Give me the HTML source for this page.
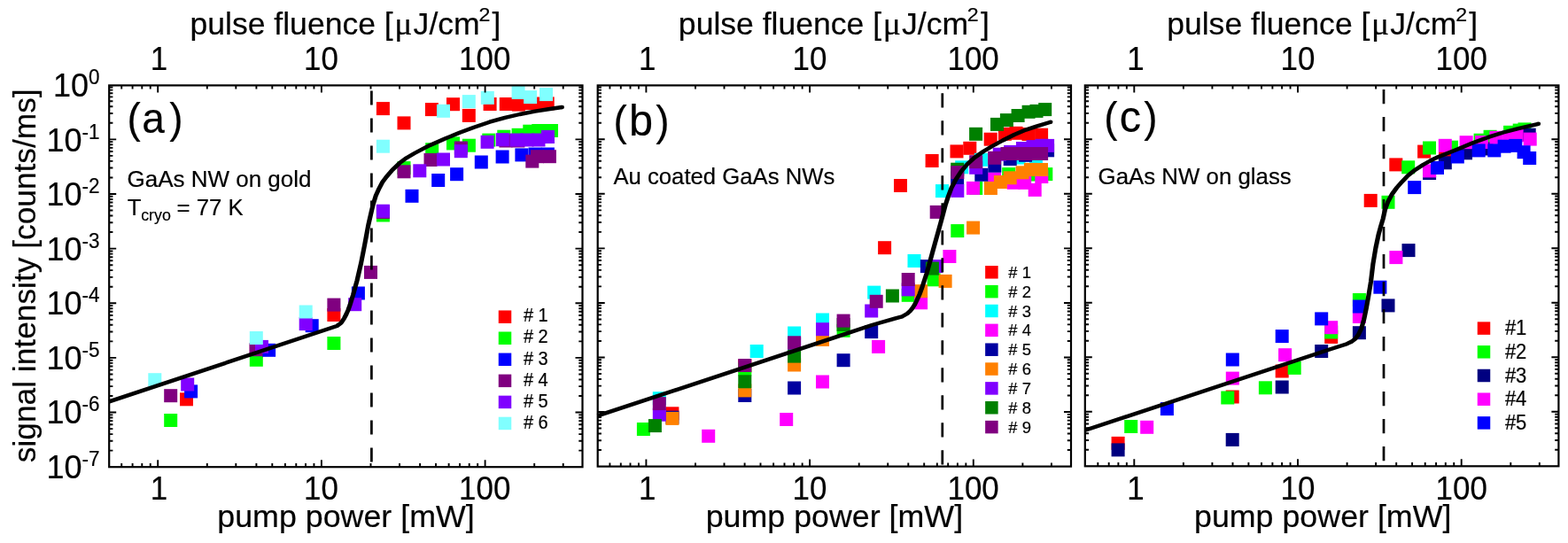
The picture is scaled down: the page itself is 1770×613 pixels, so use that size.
<!DOCTYPE html>
<html lang="en"><head><meta charset="utf-8"><title>Signal intensity vs pump power</title>
<style>
html,body{margin:0;padding:0;background:#fff;}
body{width:1770px;height:613px;overflow:hidden;}
svg{display:block;font-family:"Liberation Sans",Arial,sans-serif;fill:#000;}
text{stroke:#000;stroke-width:0.2px;stroke-linejoin:round;}
.ax{fill:none;stroke:#000;}
.tl{font-size:36px;}
.ti{font-size:36px;}
.sup{font-size:21px;}
.pl{font-size:48px;}
.an{font-size:24.5px;}
</style></head><body>
<svg width="1770" height="613" viewBox="0 0 1770 613">
<rect width="1770" height="613" fill="#fff"/>
<g id="panel-a">
<g fill="#ff0000"><rect x="203" y="443.3" width="15" height="15"/><rect x="281.9" y="388.5" width="15" height="15"/><rect x="369.4" y="348" width="15" height="15"/><rect x="424.9" y="115.1" width="15" height="15"/><rect x="448.5" y="131.4" width="15" height="15"/><rect x="479.9" y="116.1" width="15" height="15"/><rect x="504" y="110.2" width="15" height="15"/><rect x="521.8" y="122.9" width="15" height="15"/><rect x="545.6" y="110" width="15" height="15"/><rect x="563.8" y="110" width="15" height="15"/><rect x="577.8" y="110.6" width="15" height="15"/><rect x="591" y="109.1" width="15" height="15"/><rect x="599.5" y="109.5" width="15" height="15"/><rect x="610.7" y="109.4" width="15" height="15"/></g>
<g fill="#00ff00"><rect x="185.2" y="467" width="15" height="15"/><rect x="281.8" y="398.8" width="15" height="15"/><rect x="369.4" y="380" width="15" height="15"/><rect x="424.9" y="235.5" width="15" height="15"/><rect x="448.5" y="182.1" width="15" height="15"/><rect x="480.2" y="161.2" width="15" height="15"/><rect x="504" y="154.4" width="15" height="15"/><rect x="521.9" y="156.7" width="15" height="15"/><rect x="544.3" y="150.6" width="15" height="15"/><rect x="561.3" y="146.7" width="15" height="15"/><rect x="577.6" y="144.8" width="15" height="15"/><rect x="590.3" y="140.7" width="15" height="15"/><rect x="600.3" y="140" width="15" height="15"/><rect x="615" y="140" width="15" height="15"/></g>
<g fill="#0000ff"><rect x="208.1" y="434.4" width="15" height="15"/><rect x="296.1" y="387.8" width="15" height="15"/><rect x="344.7" y="360.2" width="15" height="15"/><rect x="396.9" y="323.5" width="15" height="15"/><rect x="457.5" y="213.8" width="15" height="15"/><rect x="487.2" y="196" width="15" height="15"/><rect x="508.1" y="189.2" width="15" height="15"/><rect x="535.8" y="175.5" width="15" height="15"/><rect x="559.6" y="169.5" width="15" height="15"/><rect x="581.4" y="167.4" width="15" height="15"/><rect x="596.5" y="166.5" width="15" height="15"/><rect x="610.9" y="166.5" width="15" height="15"/></g>
<g fill="#800080"><rect x="185.2" y="439.2" width="15" height="15"/><rect x="281.5" y="387.2" width="15" height="15"/><rect x="369.4" y="336.6" width="15" height="15"/><rect x="411" y="299.9" width="15" height="15"/><rect x="424.9" y="232" width="15" height="15"/><rect x="448.5" y="186.3" width="15" height="15"/><rect x="478.5" y="173" width="15" height="15"/><rect x="512.9" y="159.5" width="15" height="15"/><rect x="563.4" y="151.5" width="15" height="15"/><rect x="577.4" y="151.5" width="15" height="15"/><rect x="593.3" y="174.6" width="15" height="15"/><rect x="599" y="169.2" width="15" height="15"/><rect x="612.9" y="169.2" width="15" height="15"/></g>
<g fill="#8000ff"><rect x="204.2" y="426.5" width="15" height="15"/><rect x="288" y="383.9" width="15" height="15"/><rect x="337.7" y="358.1" width="15" height="15"/><rect x="393.2" y="336.2" width="15" height="15"/><rect x="424.9" y="230.7" width="15" height="15"/><rect x="466.3" y="185.3" width="15" height="15"/><rect x="493" y="172.5" width="15" height="15"/><rect x="512.8" y="163.2" width="15" height="15"/><rect x="542.6" y="152.8" width="15" height="15"/><rect x="559.8" y="150.2" width="15" height="15"/><rect x="575.5" y="150.5" width="15" height="15"/><rect x="587.5" y="150.5" width="15" height="15"/><rect x="600.5" y="150.5" width="15" height="15"/><rect x="611" y="147" width="15" height="15"/></g>
<g fill="#80ffff"><rect x="167.3" y="421.2" width="15" height="15"/><rect x="281.8" y="374" width="15" height="15"/><rect x="337.7" y="344.5" width="15" height="15"/><rect x="424.9" y="157.7" width="15" height="15"/><rect x="493" y="117.8" width="15" height="15"/><rect x="521.8" y="107.1" width="15" height="15"/><rect x="542.8" y="102.9" width="15" height="15"/><rect x="577.6" y="97" width="15" height="15"/><rect x="591.1" y="102.1" width="15" height="15"/><rect x="609" y="99.1" width="15" height="15"/></g>
<g transform="scale(1.18,1)"><path d="M104.41,453.4 L322.29,368 L326.53,364.3 L329.32,359.2 L331.36,354.5 L333.05,350 L334.83,344.2 L337.8,332.8 L341.61,316.5 L345.42,297 L348.98,275.5 L352.37,254 L355.08,240 L356.78,231.5 L359.49,221 L362.63,212.8 L365.85,205.7 L369.66,199.6 L375.42,191.8 L382.12,184.2 L388.98,178.2 L396.53,173 L410.85,164.2 L425.25,156.8 L439.66,149.8 L453.39,143.7 L468.39,137.7 L483.05,132.8 L497.2,129 L511.86,125.7 L525.93,123 L537.71,121" fill="none" stroke="#000" stroke-width="4.4" stroke-linejoin="round" stroke-linecap="butt"/></g><ellipse cx="634.5" cy="121" rx="2.47" ry="2.2"/>
<path d="M419.4,102.4V118.6M419.4,133.4V149.6M419.4,164.4V180.6M419.4,195.4V211.6M419.4,226.4V242.6M419.4,257.4V273.6M419.4,288.4V304.6M419.4,319.4V335.6M419.4,350.4V366.6M419.4,381.4V397.6M419.4,412.4V428.6M419.4,443.4V459.6M419.4,474.4V490.6M419.4,505.4V521.6" class="ax" stroke-width="2.7"/>
<path d="M137.22,96.4v4.2M137.22,527.2v-4.2M149.59,96.4v4.2M149.59,527.2v-4.2M160.3,96.4v4.2M160.3,527.2v-4.2M169.75,96.4v4.2M169.75,527.2v-4.2M178.2,96.4v8M178.2,527.2v-8M233.8,96.4v4.2M233.8,527.2v-4.2M266.32,96.4v4.2M266.32,527.2v-4.2M289.4,96.4v4.2M289.4,527.2v-4.2M307.3,96.4v4.2M307.3,527.2v-4.2M321.92,96.4v4.2M321.92,527.2v-4.2M334.29,96.4v4.2M334.29,527.2v-4.2M345,96.4v4.2M345,527.2v-4.2M354.45,96.4v4.2M354.45,527.2v-4.2M362.9,96.4v8M362.9,527.2v-8M418.5,96.4v4.2M418.5,527.2v-4.2M451.02,96.4v4.2M451.02,527.2v-4.2M474.1,96.4v4.2M474.1,527.2v-4.2M492,96.4v4.2M492,527.2v-4.2M506.62,96.4v4.2M506.62,527.2v-4.2M518.99,96.4v4.2M518.99,527.2v-4.2M529.7,96.4v4.2M529.7,527.2v-4.2M539.15,96.4v4.2M539.15,527.2v-4.2M547.6,96.4v8M547.6,527.2v-8M603.2,96.4v4.2M603.2,527.2v-4.2M635.72,96.4v4.2M635.72,527.2v-4.2M123.2,138.79h4.2M657.5,138.79h-4.2M123.2,127.93h4.2M657.5,127.93h-4.2M123.2,120.23h4.2M657.5,120.23h-4.2M123.2,114.26h4.2M657.5,114.26h-4.2M123.2,109.38h4.2M657.5,109.38h-4.2M123.2,105.25h4.2M657.5,105.25h-4.2M123.2,101.67h4.2M657.5,101.67h-4.2M123.2,98.52h4.2M657.5,98.52h-4.2M123.2,157.34h8M657.5,157.34h-8M123.2,200.43h4.2M657.5,200.43h-4.2M123.2,189.57h4.2M657.5,189.57h-4.2M123.2,181.87h4.2M657.5,181.87h-4.2M123.2,175.9h4.2M657.5,175.9h-4.2M123.2,171.02h4.2M657.5,171.02h-4.2M123.2,166.89h4.2M657.5,166.89h-4.2M123.2,163.32h4.2M657.5,163.32h-4.2M123.2,160.16h4.2M657.5,160.16h-4.2M123.2,218.99h8M657.5,218.99h-8M123.2,262.07h4.2M657.5,262.07h-4.2M123.2,251.22h4.2M657.5,251.22h-4.2M123.2,243.52h4.2M657.5,243.52h-4.2M123.2,237.54h4.2M657.5,237.54h-4.2M123.2,232.66h4.2M657.5,232.66h-4.2M123.2,228.53h4.2M657.5,228.53h-4.2M123.2,224.96h4.2M657.5,224.96h-4.2M123.2,221.81h4.2M657.5,221.81h-4.2M123.2,280.63h8M657.5,280.63h-8M123.2,323.72h4.2M657.5,323.72h-4.2M123.2,312.86h4.2M657.5,312.86h-4.2M123.2,305.16h4.2M657.5,305.16h-4.2M123.2,299.18h4.2M657.5,299.18h-4.2M123.2,294.3h4.2M657.5,294.3h-4.2M123.2,290.18h4.2M657.5,290.18h-4.2M123.2,286.6h4.2M657.5,286.6h-4.2M123.2,283.45h4.2M657.5,283.45h-4.2M123.2,342.27h8M657.5,342.27h-8M123.2,385.36h4.2M657.5,385.36h-4.2M123.2,374.5h4.2M657.5,374.5h-4.2M123.2,366.8h4.2M657.5,366.8h-4.2M123.2,360.83h4.2M657.5,360.83h-4.2M123.2,355.95h4.2M657.5,355.95h-4.2M123.2,351.82h4.2M657.5,351.82h-4.2M123.2,348.25h4.2M657.5,348.25h-4.2M123.2,345.09h4.2M657.5,345.09h-4.2M123.2,403.91h8M657.5,403.91h-8M123.2,447h4.2M657.5,447h-4.2M123.2,436.15h4.2M657.5,436.15h-4.2M123.2,428.44h4.2M657.5,428.44h-4.2M123.2,422.47h4.2M657.5,422.47h-4.2M123.2,417.59h4.2M657.5,417.59h-4.2M123.2,413.46h4.2M657.5,413.46h-4.2M123.2,409.89h4.2M657.5,409.89h-4.2M123.2,406.73h4.2M657.5,406.73h-4.2M123.2,465.56h8M657.5,465.56h-8M123.2,508.64h4.2M657.5,508.64h-4.2M123.2,497.79h4.2M657.5,497.79h-4.2M123.2,490.09h4.2M657.5,490.09h-4.2M123.2,484.11h4.2M657.5,484.11h-4.2M123.2,479.23h4.2M657.5,479.23h-4.2M123.2,475.11h4.2M657.5,475.11h-4.2M123.2,471.53h4.2M657.5,471.53h-4.2M123.2,468.38h4.2M657.5,468.38h-4.2" class="ax" stroke-width="1.9"/>
<rect x="123.2" y="96.4" width="534.3" height="430.8" class="ax" stroke-width="2.2"/>
<text class="tl" transform="translate(179.4,79.3) scale(0.97,1.03)" text-anchor="middle">1</text>
<text class="tl" transform="translate(179.4,564.1) scale(0.97,1.03)" text-anchor="middle">1</text>
<text class="tl" transform="translate(362.5,79.3) scale(0.97,1.03)" text-anchor="middle">10</text>
<text class="tl" transform="translate(362.5,564.1) scale(0.97,1.03)" text-anchor="middle">10</text>
<text class="tl" transform="translate(547.2,79.3) scale(0.97,1.03)" text-anchor="middle">100</text>
<text class="tl" transform="translate(547.2,564.1) scale(0.97,1.03)" text-anchor="middle">100</text>
<g class="ti">
<text transform="translate(0,38.9) scale(0.988,0.95)" font-size="36"><tspan x="217.07">pulse fluence [</tspan><tspan x="450.71" font-size="38" font-family="'Liberation Serif',serif">μ</tspan><tspan x="472.29" font-size="36">J/cm</tspan><tspan x="547.02" dy="-16.11" font-size="23.5">2</tspan><tspan x="562.31" dy="16.11">]</tspan></text>
<text transform="translate(245.27,595.3) scale(0.9948,0.95)" font-size="36">pump power [mW]</text>
</g>
<rect x="562.75" y="350.45" width="14.5" height="14.5" fill="#ff0000"/>
<text transform="translate(590.9,363.4) scale(1,1.06)" font-size="20"># 1</text>
<rect x="562.75" y="374.5" width="14.5" height="14.5" fill="#00ff00"/>
<text transform="translate(590.9,387.45) scale(1,1.06)" font-size="20"># 2</text>
<rect x="562.75" y="398.55" width="14.5" height="14.5" fill="#0000ff"/>
<text transform="translate(590.9,411.5) scale(1,1.06)" font-size="20"># 3</text>
<rect x="562.75" y="422.6" width="14.5" height="14.5" fill="#800080"/>
<text transform="translate(590.9,435.55) scale(1,1.06)" font-size="20"># 4</text>
<rect x="562.75" y="446.65" width="14.5" height="14.5" fill="#8000ff"/>
<text transform="translate(590.9,459.6) scale(1,1.06)" font-size="20"># 5</text>
<rect x="562.75" y="470.7" width="14.5" height="14.5" fill="#80ffff"/>
<text transform="translate(590.9,483.65) scale(1,1.06)" font-size="20"># 6</text>
</g>
<g id="panel-b">
<g fill="#ff0000"><rect x="751.4" y="459.3" width="15" height="15"/><rect x="833.3" y="405.6" width="15" height="15"/><rect x="991.1" y="272.2" width="15" height="15"/><rect x="1009" y="202" width="15" height="15"/><rect x="1044.6" y="174" width="15" height="15"/><rect x="1072.5" y="163.4" width="15" height="15"/><rect x="1087.3" y="159.8" width="15" height="15"/><rect x="1110.7" y="149.7" width="15" height="15"/><rect x="1126.9" y="143.8" width="15" height="15"/><rect x="1139.5" y="142.8" width="15" height="15"/><rect x="1153.5" y="144" width="15" height="15"/><rect x="1168.1" y="144.7" width="15" height="15"/></g>
<g fill="#00ff00"><rect x="718.9" y="477" width="15" height="15"/><rect x="833.3" y="409.4" width="15" height="15"/><rect x="944.6" y="365.8" width="15" height="15"/><rect x="1017.7" y="325.8" width="15" height="15"/><rect x="1046.6" y="308.3" width="15" height="15"/><rect x="1073.3" y="253.1" width="15" height="15"/><rect x="1094.2" y="205" width="15" height="15"/><rect x="1131.2" y="189.1" width="15" height="15"/><rect x="1159" y="189.5" width="15" height="15"/><rect x="1173.3" y="189.1" width="15" height="15"/></g>
<g fill="#00ffff"><rect x="736.8" y="442.2" width="15" height="15"/><rect x="846.7" y="389" width="15" height="15"/><rect x="889.1" y="368.5" width="15" height="15"/><rect x="921" y="353.5" width="15" height="15"/><rect x="979.2" y="322.6" width="15" height="15"/><rect x="1024.5" y="287" width="15" height="15"/><rect x="1056" y="208.1" width="15" height="15"/><rect x="1078.2" y="181.3" width="15" height="15"/><rect x="1099.9" y="172.8" width="15" height="15"/><rect x="1142.5" y="170.5" width="15" height="15"/><rect x="1161.9" y="169.1" width="15" height="15"/></g>
<g fill="#ff00ff"><rect x="792.2" y="484.8" width="15" height="15"/><rect x="880.2" y="466" width="15" height="15"/><rect x="921" y="423.5" width="15" height="15"/><rect x="984.1" y="383.9" width="15" height="15"/><rect x="1032.1" y="334.3" width="15" height="15"/><rect x="1064.4" y="282" width="15" height="15"/><rect x="1091" y="204.9" width="15" height="15"/><rect x="1115" y="194.5" width="15" height="15"/><rect x="1136.7" y="198.8" width="15" height="15"/><rect x="1149.2" y="198.9" width="15" height="15"/><rect x="1160.7" y="206.9" width="15" height="15"/><rect x="1168.3" y="192" width="15" height="15"/></g>
<g fill="#0000a0"><rect x="751.4" y="463.7" width="15" height="15"/><rect x="833.3" y="439" width="15" height="15"/><rect x="889.1" y="430.5" width="15" height="15"/><rect x="944.6" y="399.2" width="15" height="15"/><rect x="976.2" y="367.1" width="15" height="15"/><rect x="1038.9" y="293.1" width="15" height="15"/><rect x="1073.1" y="193.5" width="15" height="15"/><rect x="1100.3" y="189.8" width="15" height="15"/><rect x="1115.3" y="179.7" width="15" height="15"/><rect x="1132.7" y="172" width="15" height="15"/><rect x="1150.1" y="167.8" width="15" height="15"/><rect x="1175.1" y="162.3" width="15" height="15"/></g>
<g fill="#ff8000"><rect x="751.4" y="464.9" width="15" height="15"/><rect x="833.3" y="433.4" width="15" height="15"/><rect x="889.1" y="404.5" width="15" height="15"/><rect x="921" y="375.9" width="15" height="15"/><rect x="1032.1" y="321.2" width="15" height="15"/><rect x="1059.6" y="309.9" width="15" height="15"/><rect x="1091.1" y="249.6" width="15" height="15"/><rect x="1110.9" y="205" width="15" height="15"/><rect x="1121.9" y="198" width="15" height="15"/><rect x="1132.7" y="193.3" width="15" height="15"/><rect x="1146.5" y="187.3" width="15" height="15"/><rect x="1155.9" y="183.9" width="15" height="15"/><rect x="1168" y="184" width="15" height="15"/></g>
<g fill="#8000ff"><rect x="736.8" y="460.7" width="15" height="15"/><rect x="889.1" y="380.7" width="15" height="15"/><rect x="921" y="364.2" width="15" height="15"/><rect x="976.2" y="343.5" width="15" height="15"/><rect x="1017.7" y="319.4" width="15" height="15"/><rect x="1048.9" y="293.1" width="15" height="15"/><rect x="1073.3" y="207.9" width="15" height="15"/><rect x="1094.2" y="181.8" width="15" height="15"/><rect x="1120.8" y="166.7" width="15" height="15"/><rect x="1133.1" y="163.9" width="15" height="15"/><rect x="1147" y="160" width="15" height="15"/><rect x="1158.5" y="158.1" width="15" height="15"/><rect x="1168.5" y="156.8" width="15" height="15"/><rect x="1175.1" y="156.9" width="15" height="15"/></g>
<g fill="#008000"><rect x="731.9" y="473.1" width="15" height="15"/><rect x="833.3" y="423.3" width="15" height="15"/><rect x="889.1" y="394.6" width="15" height="15"/><rect x="944.6" y="359" width="15" height="15"/><rect x="999.9" y="326.5" width="15" height="15"/><rect x="1044.9" y="295.6" width="15" height="15"/><rect x="1073.2" y="183.7" width="15" height="15"/><rect x="1094.1" y="143.8" width="15" height="15"/><rect x="1118" y="132.9" width="15" height="15"/><rect x="1128.9" y="128.1" width="15" height="15"/><rect x="1141.6" y="123" width="15" height="15"/><rect x="1153.6" y="118.8" width="15" height="15"/><rect x="1162.5" y="117.9" width="15" height="15"/><rect x="1172.2" y="116.1" width="15" height="15"/></g>
<g fill="#800080"><rect x="736.8" y="448.1" width="15" height="15"/><rect x="833.3" y="405" width="15" height="15"/><rect x="889.1" y="379.3" width="15" height="15"/><rect x="944.6" y="354.6" width="15" height="15"/><rect x="981.7" y="332.8" width="15" height="15"/><rect x="1017.7" y="308" width="15" height="15"/><rect x="1049.7" y="231.9" width="15" height="15"/><rect x="1073.3" y="187.1" width="15" height="15"/><rect x="1094.2" y="175.2" width="15" height="15"/><rect x="1115.1" y="170.8" width="15" height="15"/><rect x="1129.5" y="166" width="15" height="15"/><rect x="1142.5" y="166" width="15" height="15"/><rect x="1154.5" y="166" width="15" height="15"/><rect x="1168.1" y="166" width="15" height="15"/></g>
<g transform="scale(1.18,1)"><path d="M571.69,469.4 L805.08,378.4 L834.07,367 L855.93,359.6 L863.14,357.3 L867.97,354 L870.76,351 L872.8,348 L874.83,344.3 L876.69,340 L879.58,332.5 L882.37,323.5 L886.36,309 L889.24,297 L892.12,284.5 L895.17,271.5 L898.14,259 L900.59,248.5 L902.29,241 L904.41,231.5 L906.95,222.3 L910.17,212.1 L914.41,202.6 L919.49,193.5 L925.42,185.3 L932.2,178 L940.68,171 L949.15,165 L959.32,158.5 L970.34,152 L981.36,146.6 L991.53,142.6 L1005.08,137.8" fill="none" stroke="#000" stroke-width="4.4" stroke-linejoin="round" stroke-linecap="butt"/></g><ellipse cx="1186" cy="137.8" rx="2.47" ry="2.2"/>
<path d="M1063.8,105.3V121.5M1063.8,136.3V152.5M1063.8,167.3V183.5M1063.8,198.3V214.5M1063.8,229.3V245.5M1063.8,260.3V276.5M1063.8,291.3V307.5M1063.8,322.3V338.5M1063.8,353.3V369.5M1063.8,384.3V400.5M1063.8,415.3V431.5M1063.8,446.3V462.5M1063.8,477.3V493.5M1063.8,508.3V524.5" class="ax" stroke-width="2.7"/>
<path d="M688.42,96.4v4.2M688.42,526.6v-4.2M700.79,96.4v4.2M700.79,526.6v-4.2M711.5,96.4v4.2M711.5,526.6v-4.2M720.95,96.4v4.2M720.95,526.6v-4.2M729.4,96.4v8M729.4,526.6v-8M785,96.4v4.2M785,526.6v-4.2M817.52,96.4v4.2M817.52,526.6v-4.2M840.6,96.4v4.2M840.6,526.6v-4.2M858.5,96.4v4.2M858.5,526.6v-4.2M873.12,96.4v4.2M873.12,526.6v-4.2M885.49,96.4v4.2M885.49,526.6v-4.2M896.2,96.4v4.2M896.2,526.6v-4.2M905.65,96.4v4.2M905.65,526.6v-4.2M914.1,96.4v8M914.1,526.6v-8M969.7,96.4v4.2M969.7,526.6v-4.2M1002.22,96.4v4.2M1002.22,526.6v-4.2M1025.3,96.4v4.2M1025.3,526.6v-4.2M1043.2,96.4v4.2M1043.2,526.6v-4.2M1057.82,96.4v4.2M1057.82,526.6v-4.2M1070.19,96.4v4.2M1070.19,526.6v-4.2M1080.9,96.4v4.2M1080.9,526.6v-4.2M1090.35,96.4v4.2M1090.35,526.6v-4.2M1098.8,96.4v8M1098.8,526.6v-8M1154.4,96.4v4.2M1154.4,526.6v-4.2M1186.92,96.4v4.2M1186.92,526.6v-4.2M674.7,138.73h4.2M1209,138.73h-4.2M674.7,127.89h4.2M1209,127.89h-4.2M674.7,120.2h4.2M1209,120.2h-4.2M674.7,114.23h4.2M1209,114.23h-4.2M674.7,109.36h4.2M1209,109.36h-4.2M674.7,105.24h4.2M1209,105.24h-4.2M674.7,101.67h4.2M1209,101.67h-4.2M674.7,98.52h4.2M1209,98.52h-4.2M674.7,157.26h8M1209,157.26h-8M674.7,200.28h4.2M1209,200.28h-4.2M674.7,189.44h4.2M1209,189.44h-4.2M674.7,181.75h4.2M1209,181.75h-4.2M674.7,175.79h4.2M1209,175.79h-4.2M674.7,170.91h4.2M1209,170.91h-4.2M674.7,166.79h4.2M1209,166.79h-4.2M674.7,163.22h4.2M1209,163.22h-4.2M674.7,160.07h4.2M1209,160.07h-4.2M674.7,218.81h8M1209,218.81h-8M674.7,261.84h4.2M1209,261.84h-4.2M674.7,251h4.2M1209,251h-4.2M674.7,243.31h4.2M1209,243.31h-4.2M674.7,237.34h4.2M1209,237.34h-4.2M674.7,232.47h4.2M1209,232.47h-4.2M674.7,228.35h4.2M1209,228.35h-4.2M674.7,224.78h4.2M1209,224.78h-4.2M674.7,221.63h4.2M1209,221.63h-4.2M674.7,280.37h8M1209,280.37h-8M674.7,323.4h4.2M1209,323.4h-4.2M674.7,312.56h4.2M1209,312.56h-4.2M674.7,304.87h4.2M1209,304.87h-4.2M674.7,298.9h4.2M1209,298.9h-4.2M674.7,294.03h4.2M1209,294.03h-4.2M674.7,289.91h4.2M1209,289.91h-4.2M674.7,286.34h4.2M1209,286.34h-4.2M674.7,283.19h4.2M1209,283.19h-4.2M674.7,341.93h8M1209,341.93h-8M674.7,384.96h4.2M1209,384.96h-4.2M674.7,374.12h4.2M1209,374.12h-4.2M674.7,366.42h4.2M1209,366.42h-4.2M674.7,360.46h4.2M1209,360.46h-4.2M674.7,355.58h4.2M1209,355.58h-4.2M674.7,351.46h4.2M1209,351.46h-4.2M674.7,347.89h4.2M1209,347.89h-4.2M674.7,344.75h4.2M1209,344.75h-4.2M674.7,403.49h8M1209,403.49h-8M674.7,446.51h4.2M1209,446.51h-4.2M674.7,435.67h4.2M1209,435.67h-4.2M674.7,427.98h4.2M1209,427.98h-4.2M674.7,422.02h4.2M1209,422.02h-4.2M674.7,417.14h4.2M1209,417.14h-4.2M674.7,413.02h4.2M1209,413.02h-4.2M674.7,409.45h4.2M1209,409.45h-4.2M674.7,406.3h4.2M1209,406.3h-4.2M674.7,465.04h8M1209,465.04h-8M674.7,508.07h4.2M1209,508.07h-4.2M674.7,497.23h4.2M1209,497.23h-4.2M674.7,489.54h4.2M1209,489.54h-4.2M674.7,483.57h4.2M1209,483.57h-4.2M674.7,478.7h4.2M1209,478.7h-4.2M674.7,474.58h4.2M1209,474.58h-4.2M674.7,471.01h4.2M1209,471.01h-4.2M674.7,467.86h4.2M1209,467.86h-4.2" class="ax" stroke-width="1.9"/>
<rect x="674.7" y="96.4" width="534.3" height="430.2" class="ax" stroke-width="2.2"/>
<text class="tl" transform="translate(730.8,79.3) scale(0.97,1.03)" text-anchor="middle">1</text>
<text class="tl" transform="translate(730.8,564.1) scale(0.97,1.03)" text-anchor="middle">1</text>
<text class="tl" transform="translate(913.9,79.3) scale(0.97,1.03)" text-anchor="middle">10</text>
<text class="tl" transform="translate(913.9,564.1) scale(0.97,1.03)" text-anchor="middle">10</text>
<text class="tl" transform="translate(1098.6,79.3) scale(0.97,1.03)" text-anchor="middle">100</text>
<text class="tl" transform="translate(1098.6,564.1) scale(0.97,1.03)" text-anchor="middle">100</text>
<g class="ti">
<text transform="translate(0,38.9) scale(0.988,0.95)" font-size="36"><tspan x="775.17">pulse fluence [</tspan><tspan x="1008.81" font-size="38" font-family="'Liberation Serif',serif">μ</tspan><tspan x="1030.39" font-size="36">J/cm</tspan><tspan x="1105.12" dy="-16.11" font-size="23.5">2</tspan><tspan x="1120.41" dy="16.11">]</tspan></text>
<text transform="translate(796.67,595.3) scale(0.9948,0.95)" font-size="36">pump power [mW]</text>
</g>
<rect x="1112.15" y="300.05" width="14.5" height="14.5" fill="#ff0000"/>
<text transform="translate(1138.21,313.8) scale(1,1.03)" font-size="18.5"># 1</text>
<rect x="1112.15" y="321.9" width="14.5" height="14.5" fill="#00ff00"/>
<text transform="translate(1138.21,335.65) scale(1,1.03)" font-size="18.5"># 2</text>
<rect x="1112.15" y="343.75" width="14.5" height="14.5" fill="#00ffff"/>
<text transform="translate(1138.21,357.5) scale(1,1.03)" font-size="18.5"># 3</text>
<rect x="1112.15" y="365.6" width="14.5" height="14.5" fill="#ff00ff"/>
<text transform="translate(1138.21,379.35) scale(1,1.03)" font-size="18.5"># 4</text>
<rect x="1112.15" y="387.45" width="14.5" height="14.5" fill="#0000a0"/>
<text transform="translate(1138.21,401.2) scale(1,1.03)" font-size="18.5"># 5</text>
<rect x="1112.15" y="409.3" width="14.5" height="14.5" fill="#ff8000"/>
<text transform="translate(1138.21,423.05) scale(1,1.03)" font-size="18.5"># 6</text>
<rect x="1112.15" y="431.15" width="14.5" height="14.5" fill="#8000ff"/>
<text transform="translate(1138.21,444.9) scale(1,1.03)" font-size="18.5"># 7</text>
<rect x="1112.15" y="453" width="14.5" height="14.5" fill="#008000"/>
<text transform="translate(1138.21,466.75) scale(1,1.03)" font-size="18.5"># 8</text>
<rect x="1112.15" y="474.85" width="14.5" height="14.5" fill="#800080"/>
<text transform="translate(1138.21,488.6) scale(1,1.03)" font-size="18.5"># 9</text>
</g>
<g id="panel-c">
<g fill="#ff0000"><rect x="1254.6" y="492.9" width="15" height="15"/><rect x="1383.7" y="440.5" width="15" height="15"/><rect x="1439.7" y="411.5" width="15" height="15"/><rect x="1495.2" y="372.9" width="15" height="15"/><rect x="1539.7" y="218.9" width="15" height="15"/><rect x="1568.3" y="178.4" width="15" height="15"/><rect x="1600.1" y="163.6" width="15" height="15"/><rect x="1624" y="162.8" width="15" height="15"/></g>
<g fill="#00ff00"><rect x="1269.2" y="474" width="15" height="15"/><rect x="1378.3" y="441.5" width="15" height="15"/><rect x="1420.9" y="430.3" width="15" height="15"/><rect x="1453.7" y="407.9" width="15" height="15"/><rect x="1495.2" y="367.5" width="15" height="15"/><rect x="1526.9" y="331" width="15" height="15"/><rect x="1559.5" y="220.8" width="15" height="15"/><rect x="1582.2" y="181.3" width="15" height="15"/><rect x="1606" y="159.5" width="15" height="15"/><rect x="1631" y="158.7" width="15" height="15"/><rect x="1663.6" y="150.7" width="15" height="15"/><rect x="1674.6" y="146.8" width="15" height="15"/><rect x="1697.1" y="141.8" width="15" height="15"/><rect x="1707.7" y="139.6" width="15" height="15"/><rect x="1713.5" y="138.4" width="15" height="15"/></g>
<g fill="#000080"><rect x="1254.6" y="500.4" width="15" height="15"/><rect x="1383.7" y="488.9" width="15" height="15"/><rect x="1439.7" y="429.5" width="15" height="15"/><rect x="1484.2" y="389" width="15" height="15"/><rect x="1526.9" y="368.2" width="15" height="15"/><rect x="1559.5" y="337.4" width="15" height="15"/><rect x="1582.5" y="275.1" width="15" height="15"/><rect x="1606.1" y="188" width="15" height="15"/><rect x="1623.8" y="176.3" width="15" height="15"/><rect x="1647" y="165.3" width="15" height="15"/><rect x="1670.5" y="160.5" width="15" height="15"/><rect x="1718.7" y="144.7" width="15" height="15"/></g>
<g fill="#ff00ff"><rect x="1287.2" y="474.8" width="15" height="15"/><rect x="1383.8" y="419.6" width="15" height="15"/><rect x="1443.1" y="393.2" width="15" height="15"/><rect x="1495.2" y="362.2" width="15" height="15"/><rect x="1526.9" y="350" width="15" height="15"/><rect x="1568.4" y="283.1" width="15" height="15"/><rect x="1606.1" y="185.4" width="15" height="15"/><rect x="1623.8" y="156.8" width="15" height="15"/><rect x="1647.6" y="153.2" width="15" height="15"/><rect x="1665.1" y="153" width="15" height="15"/><rect x="1681.4" y="147.8" width="15" height="15"/><rect x="1696.1" y="147.1" width="15" height="15"/><rect x="1704.6" y="145.4" width="15" height="15"/><rect x="1719.7" y="149.6" width="15" height="15"/></g>
<g fill="#0000ff"><rect x="1309.9" y="454.1" width="15" height="15"/><rect x="1383.8" y="398.5" width="15" height="15"/><rect x="1439.7" y="372.1" width="15" height="15"/><rect x="1484.2" y="352.4" width="15" height="15"/><rect x="1526.9" y="338.5" width="15" height="15"/><rect x="1550.4" y="316.7" width="15" height="15"/><rect x="1589.2" y="204.1" width="15" height="15"/><rect x="1615" y="182" width="15" height="15"/><rect x="1637.8" y="169.5" width="15" height="15"/><rect x="1661.7" y="162.4" width="15" height="15"/><rect x="1679.3" y="162.4" width="15" height="15"/><rect x="1690.6" y="157.7" width="15" height="15"/><rect x="1703.3" y="156.9" width="15" height="15"/><rect x="1712.6" y="164.2" width="15" height="15"/><rect x="1719.2" y="171" width="15" height="15"/></g>
<g transform="scale(1.18,1)"><path d="M1037.97,485.7 L1271.19,394.8 L1288.56,388.2 L1293.22,385.5 L1296.61,382.3 L1299.41,378 L1302.29,371 L1304.83,360.5 L1307.2,347 L1309.32,333 L1311.44,318 L1313.47,298 L1316.02,280 L1318.81,264.5 L1321.02,255 L1323.05,247 L1325,236.5 L1327.97,227.2 L1331.78,219 L1336.1,212 L1341.1,205.3 L1346.95,198.2 L1353.9,191.7 L1361.36,186 L1368.22,181.5 L1375.68,177.2 L1384.75,172.9 L1394.83,168.2 L1408.47,161.6 L1423.56,154.9 L1438.14,149.5 L1452.37,145.2 L1471.78,139.8" fill="none" stroke="#000" stroke-width="4.4" stroke-linejoin="round" stroke-linecap="butt"/></g><ellipse cx="1736.7" cy="139.8" rx="2.47" ry="2.2"/>
<path d="M1562,101V117.2M1562,132V148.2M1562,163V179.2M1562,194V210.2M1562,225V241.2M1562,256V272.2M1562,287V303.2M1562,318V334.2M1562,349V365.2M1562,380V396.2M1562,411V427.2M1562,442V458.2M1562,473V489.2M1562,504V520.2" class="ax" stroke-width="2.7"/>
<path d="M1239.32,96.4v4.2M1239.32,526.3v-4.2M1251.69,96.4v4.2M1251.69,526.3v-4.2M1262.4,96.4v4.2M1262.4,526.3v-4.2M1271.85,96.4v4.2M1271.85,526.3v-4.2M1280.3,96.4v8M1280.3,526.3v-8M1335.9,96.4v4.2M1335.9,526.3v-4.2M1368.42,96.4v4.2M1368.42,526.3v-4.2M1391.5,96.4v4.2M1391.5,526.3v-4.2M1409.4,96.4v4.2M1409.4,526.3v-4.2M1424.02,96.4v4.2M1424.02,526.3v-4.2M1436.39,96.4v4.2M1436.39,526.3v-4.2M1447.1,96.4v4.2M1447.1,526.3v-4.2M1456.55,96.4v4.2M1456.55,526.3v-4.2M1465,96.4v8M1465,526.3v-8M1520.6,96.4v4.2M1520.6,526.3v-4.2M1553.12,96.4v4.2M1553.12,526.3v-4.2M1576.2,96.4v4.2M1576.2,526.3v-4.2M1594.1,96.4v4.2M1594.1,526.3v-4.2M1608.72,96.4v4.2M1608.72,526.3v-4.2M1621.09,96.4v4.2M1621.09,526.3v-4.2M1631.8,96.4v4.2M1631.8,526.3v-4.2M1641.25,96.4v4.2M1641.25,526.3v-4.2M1649.7,96.4v8M1649.7,526.3v-8M1705.3,96.4v4.2M1705.3,526.3v-4.2M1737.82,96.4v4.2M1737.82,526.3v-4.2M1224.8,138.7h4.2M1759.4,138.7h-4.2M1224.8,127.86h4.2M1759.4,127.86h-4.2M1224.8,120.18h4.2M1759.4,120.18h-4.2M1224.8,114.22h4.2M1759.4,114.22h-4.2M1224.8,109.35h4.2M1759.4,109.35h-4.2M1224.8,105.23h4.2M1759.4,105.23h-4.2M1224.8,101.66h4.2M1759.4,101.66h-4.2M1224.8,98.51h4.2M1759.4,98.51h-4.2M1224.8,157.21h8M1759.4,157.21h-8M1224.8,200.21h4.2M1759.4,200.21h-4.2M1224.8,189.38h4.2M1759.4,189.38h-4.2M1224.8,181.69h4.2M1759.4,181.69h-4.2M1224.8,175.73h4.2M1759.4,175.73h-4.2M1224.8,170.86h4.2M1759.4,170.86h-4.2M1224.8,166.74h4.2M1759.4,166.74h-4.2M1224.8,163.18h4.2M1759.4,163.18h-4.2M1224.8,160.03h4.2M1759.4,160.03h-4.2M1224.8,218.73h8M1759.4,218.73h-8M1224.8,261.73h4.2M1759.4,261.73h-4.2M1224.8,250.89h4.2M1759.4,250.89h-4.2M1224.8,243.21h4.2M1759.4,243.21h-4.2M1224.8,237.25h4.2M1759.4,237.25h-4.2M1224.8,232.38h4.2M1759.4,232.38h-4.2M1224.8,228.26h4.2M1759.4,228.26h-4.2M1224.8,224.69h4.2M1759.4,224.69h-4.2M1224.8,221.54h4.2M1759.4,221.54h-4.2M1224.8,280.24h8M1759.4,280.24h-8M1224.8,323.24h4.2M1759.4,323.24h-4.2M1224.8,312.41h4.2M1759.4,312.41h-4.2M1224.8,304.72h4.2M1759.4,304.72h-4.2M1224.8,298.76h4.2M1759.4,298.76h-4.2M1224.8,293.89h4.2M1759.4,293.89h-4.2M1224.8,289.77h4.2M1759.4,289.77h-4.2M1224.8,286.2h4.2M1759.4,286.2h-4.2M1224.8,283.06h4.2M1759.4,283.06h-4.2M1224.8,341.76h8M1759.4,341.76h-8M1224.8,384.75h4.2M1759.4,384.75h-4.2M1224.8,373.92h4.2M1759.4,373.92h-4.2M1224.8,366.24h4.2M1759.4,366.24h-4.2M1224.8,360.27h4.2M1759.4,360.27h-4.2M1224.8,355.4h4.2M1759.4,355.4h-4.2M1224.8,351.29h4.2M1759.4,351.29h-4.2M1224.8,347.72h4.2M1759.4,347.72h-4.2M1224.8,344.57h4.2M1759.4,344.57h-4.2M1224.8,403.27h8M1759.4,403.27h-8M1224.8,446.27h4.2M1759.4,446.27h-4.2M1224.8,435.44h4.2M1759.4,435.44h-4.2M1224.8,427.75h4.2M1759.4,427.75h-4.2M1224.8,421.79h4.2M1759.4,421.79h-4.2M1224.8,416.92h4.2M1759.4,416.92h-4.2M1224.8,412.8h4.2M1759.4,412.8h-4.2M1224.8,409.23h4.2M1759.4,409.23h-4.2M1224.8,406.09h4.2M1759.4,406.09h-4.2M1224.8,464.79h8M1759.4,464.79h-8M1224.8,507.78h4.2M1759.4,507.78h-4.2M1224.8,496.95h4.2M1759.4,496.95h-4.2M1224.8,489.26h4.2M1759.4,489.26h-4.2M1224.8,483.3h4.2M1759.4,483.3h-4.2M1224.8,478.43h4.2M1759.4,478.43h-4.2M1224.8,474.31h4.2M1759.4,474.31h-4.2M1224.8,470.75h4.2M1759.4,470.75h-4.2M1224.8,467.6h4.2M1759.4,467.6h-4.2" class="ax" stroke-width="1.9"/>
<rect x="1224.8" y="96.4" width="534.6" height="429.9" class="ax" stroke-width="2.2"/>
<text class="tl" transform="translate(1281.9,79.3) scale(0.97,1.03)" text-anchor="middle">1</text>
<text class="tl" transform="translate(1281.9,564.1) scale(0.97,1.03)" text-anchor="middle">1</text>
<text class="tl" transform="translate(1465,79.3) scale(0.97,1.03)" text-anchor="middle">10</text>
<text class="tl" transform="translate(1465,564.1) scale(0.97,1.03)" text-anchor="middle">10</text>
<text class="tl" transform="translate(1649.7,79.3) scale(0.97,1.03)" text-anchor="middle">100</text>
<text class="tl" transform="translate(1649.7,564.1) scale(0.97,1.03)" text-anchor="middle">100</text>
<g class="ti">
<text transform="translate(0,38.9) scale(0.988,0.95)" font-size="36"><tspan x="1333.16">pulse fluence [</tspan><tspan x="1566.81" font-size="38" font-family="'Liberation Serif',serif">μ</tspan><tspan x="1588.39" font-size="36">J/cm</tspan><tspan x="1663.11" dy="-16.11" font-size="23.5">2</tspan><tspan x="1678.41" dy="16.11">]</tspan></text>
<text transform="translate(1347.97,595.3) scale(0.9948,0.95)" font-size="36">pump power [mW]</text>
</g>
<rect x="1667.75" y="363.35" width="14.5" height="14.5" fill="#ff0000"/>
<text transform="translate(1698.89,378.2) scale(1,1.06)" font-size="22">#1</text>
<rect x="1667.75" y="390.05" width="14.5" height="14.5" fill="#00ff00"/>
<text transform="translate(1698.89,404.9) scale(1,1.06)" font-size="22">#2</text>
<rect x="1667.75" y="416.75" width="14.5" height="14.5" fill="#000080"/>
<text transform="translate(1698.89,431.6) scale(1,1.06)" font-size="22">#3</text>
<rect x="1667.75" y="443.45" width="14.5" height="14.5" fill="#ff00ff"/>
<text transform="translate(1698.89,458.3) scale(1,1.06)" font-size="22">#4</text>
<rect x="1667.75" y="470.15" width="14.5" height="14.5" fill="#0000ff"/>
<text transform="translate(1698.89,485) scale(1,1.06)" font-size="22">#5</text>
</g>
<text class="tl" transform="translate(112.6,109.1) scale(1,1.03)" text-anchor="end">10<tspan font-size="22.5" dy="-13.6">0</tspan></text>
<text class="tl" transform="translate(112.6,170.64) scale(1,1.03)" text-anchor="end">10<tspan font-size="22.5" dy="-13.6">-1</tspan></text>
<text class="tl" transform="translate(112.6,232.19) scale(1,1.03)" text-anchor="end">10<tspan font-size="22.5" dy="-13.6">-2</tspan></text>
<text class="tl" transform="translate(112.6,293.73) scale(1,1.03)" text-anchor="end">10<tspan font-size="22.5" dy="-13.6">-3</tspan></text>
<text class="tl" transform="translate(112.6,355.27) scale(1,1.03)" text-anchor="end">10<tspan font-size="22.5" dy="-13.6">-4</tspan></text>
<text class="tl" transform="translate(112.6,416.81) scale(1,1.03)" text-anchor="end">10<tspan font-size="22.5" dy="-13.6">-5</tspan></text>
<text class="tl" transform="translate(112.6,478.36) scale(1,1.03)" text-anchor="end">10<tspan font-size="22.5" dy="-13.6">-6</tspan></text>
<text class="tl" transform="translate(112.6,539.9) scale(1,1.03)" text-anchor="end">10<tspan font-size="22.5" dy="-13.6">-7</tspan></text>
<text class="ti" transform="translate(39.9,522.16) rotate(-90) scale(0.9807,0.95)" font-size="36">signal intensity [counts/ms]</text>
<text transform="translate(0,149.9) scale(0.9,0.94)" font-size="51"><tspan x="159.52">(</tspan><tspan x="177.94">a</tspan><tspan x="212.43">)</tspan></text>
<text transform="translate(0,153.3) scale(0.9,0.94)" font-size="51"><tspan x="769.52">(</tspan><tspan x="789.01" font-size="54">b</tspan><tspan x="822.43">)</tspan></text>
<text transform="translate(0,149.3) scale(0.9,0.94)" font-size="51"><tspan x="1384.79">(</tspan><tspan x="1404.09" font-size="54">c</tspan><tspan x="1434.6">)</tspan></text>
<text transform="translate(143.5,211.1) scale(0.9995,1)" font-size="26">GaAs NW on gold</text>
<text transform="translate(0,242.7) scale(0.99,1.02)" font-size="26"><tspan x="145.3">T</tspan><tspan x="160.77" dy="5.69" font-size="18">cryo</tspan><tspan x="194.36" dy="-5.69"> = 77 K</tspan></text>
<text transform="translate(692.4,207.8) scale(0.9887,1)" font-size="26">Au coated GaAs NWs</text>
<text transform="translate(1239.61,207.8) scale(0.9937,1)" font-size="26">GaAs NW on glass</text>
</svg></body></html>
